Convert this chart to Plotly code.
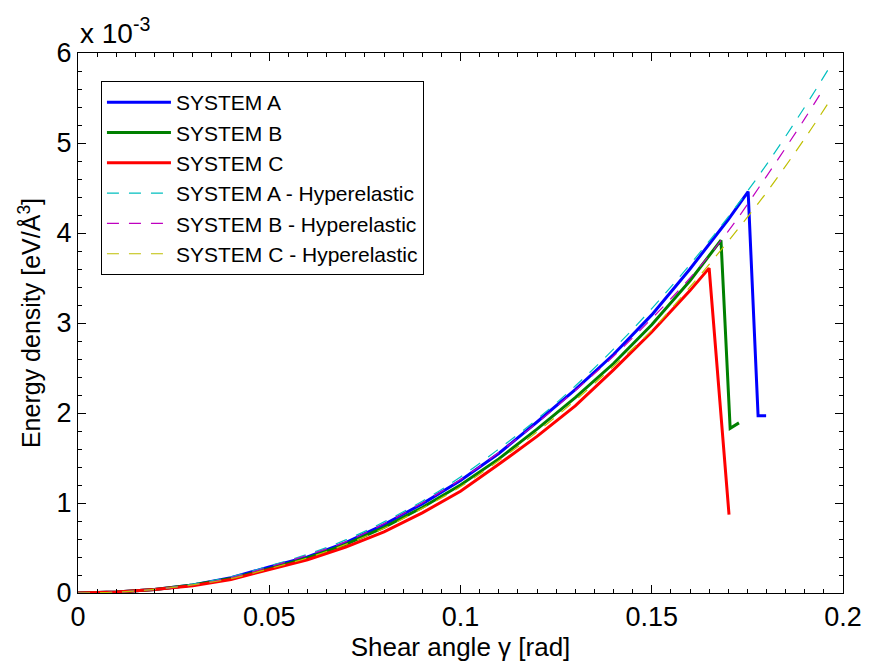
import plotly.graph_objects as go

# Energy density values are in units of 1e-3 eV/Å^3
x_a = [0, 0.01, 0.02, 0.03, 0.04, 0.05, 0.06, 0.07, 0.08, 0.09, 0.10, 0.11, 0.12,
       0.13, 0.14, 0.15, 0.16, 0.17, 0.1752, 0.1778, 0.1799]
y_a = [0, 0.01, 0.04, 0.09, 0.17, 0.29, 0.40, 0.56, 0.76, 0.99, 1.25, 1.55, 1.90,
       2.26, 2.65, 3.09, 3.60, 4.15, 4.46, 1.97, 1.97]

x_b = [0, 0.01, 0.02, 0.03, 0.04, 0.05, 0.06, 0.07, 0.08, 0.09, 0.10, 0.11, 0.12,
       0.13, 0.14, 0.15, 0.16, 0.1681, 0.1705, 0.1728]
y_b = [0, 0.01, 0.04, 0.09, 0.16, 0.27, 0.39, 0.54, 0.73, 0.95, 1.20, 1.49, 1.82,
       2.17, 2.55, 2.98, 3.47, 3.92, 1.83, 1.89]

x_c = [0, 0.01, 0.02, 0.03, 0.04, 0.05, 0.06, 0.07, 0.08, 0.09, 0.10, 0.11, 0.12,
       0.13, 0.14, 0.15, 0.16, 0.165, 0.1702]
y_c = [0, 0.01, 0.04, 0.08, 0.15, 0.26, 0.37, 0.51, 0.68, 0.89, 1.13, 1.43, 1.74,
       2.08, 2.48, 2.90, 3.36, 3.61, 0.87]

x_ah = [0, 0.01, 0.02, 0.03, 0.04, 0.05, 0.06, 0.07, 0.08, 0.09, 0.10, 0.11, 0.12,
        0.13, 0.14, 0.15, 0.16, 0.17, 0.18, 0.19, 0.1972]
y_ah = [0, 0.01, 0.04, 0.10, 0.18, 0.30, 0.43, 0.59, 0.79, 1.02, 1.29, 1.60, 1.93,
        2.30, 2.71, 3.16, 3.65, 4.18, 4.76, 5.40, 5.89]

x_bh = [0, 0.01, 0.02, 0.03, 0.04, 0.05, 0.06, 0.07, 0.08, 0.09, 0.10, 0.11, 0.12,
        0.13, 0.14, 0.15, 0.16, 0.17, 0.18, 0.19, 0.1950]
y_bh = [0, 0.01, 0.04, 0.09, 0.17, 0.29, 0.42, 0.57, 0.77, 1.00, 1.26, 1.56, 1.89,
        2.25, 2.63, 3.05, 3.50, 4.02, 4.63, 5.27, 5.61]

x_ch = [0, 0.01, 0.02, 0.03, 0.04, 0.05, 0.06, 0.07, 0.08, 0.09, 0.10, 0.11, 0.12,
        0.13, 0.14, 0.15, 0.16, 0.17, 0.18, 0.19, 0.1961]
y_ch = [0, 0.01, 0.04, 0.09, 0.16, 0.27, 0.39, 0.54, 0.72, 0.94, 1.18, 1.47, 1.79,
        2.14, 2.52, 2.92, 3.40, 3.91, 4.45, 5.05, 5.44]

x_ticks = [0, 0.05, 0.1, 0.15, 0.2]
x_tick_labels = ["0", "0.05", "0.1", "0.15", "0.2"]
y_ticks = [0, 1, 2, 3, 4, 5, 6]
y_tick_labels = ["0", "1", "2", "3", "4", "5", "6"]

FONT = "Liberation Sans, Arial, sans-serif"

fig = go.Figure()
solid = [("SYSTEM A", x_a, y_a, "#0000ff"),
         ("SYSTEM B", x_b, y_b, "#008000"),
         ("SYSTEM C", x_c, y_c, "#ff0000")]
dashed = [("SYSTEM A - Hyperelastic", x_ah, y_ah, "#00bfbf"),
          ("SYSTEM B - Hyperelastic", x_bh, y_bh, "#bf00bf"),
          ("SYSTEM C - Hyperelastic", x_ch, y_ch, "#bfbf00")]

for name, xs, ys, col in solid:
    fig.add_trace(go.Scatter(x=xs, y=ys, mode="lines", name=name,
                             line=dict(color=col, width=3)))
for name, xs, ys, col in dashed:
    fig.add_trace(go.Scatter(x=xs, y=ys, mode="lines", name=name,
                             line=dict(color=col, width=1.2, dash="12px,10px", shape="spline")))

axis_common = dict(showline=True, linecolor="black", linewidth=1, mirror="ticks",
                   ticks="inside", ticklen=8, tickcolor="black", showgrid=False,
                   zeroline=False, automargin=False,
                   tickfont=dict(family=FONT, size=27, color="black"))

fig.update_xaxes(range=[0, 0.2], tickvals=x_ticks, ticktext=x_tick_labels,
                 minor=dict(ticks="inside", dtick=0.005, ticklen=4, tickcolor="black"),
                 title=dict(text="Shear angle γ [rad]", font=dict(family=FONT, size=26, color="black"),
                            standoff=2),
                 **axis_common)
fig.update_yaxes(range=[0, 6], tickvals=y_ticks, ticktext=y_tick_labels,
                 minor=dict(ticks="inside", dtick=0.2, ticklen=4, tickcolor="black"),
                 title=dict(text="Energy density [eV/Å<sup>3</sup>]",
                            font=dict(family=FONT, size=25, color="black"), standoff=8),
                 **axis_common)

fig.add_annotation(x=0, y=1, xref="paper", yref="paper", xanchor="left", yanchor="bottom",
                   text="x 10<sup>-3</sup>", showarrow=False, yshift=2,
                   font=dict(family=FONT, size=28, color="black"))

fig.update_layout(
    width=869, height=669,
    margin=dict(l=78, r=26, t=53, b=76),
    paper_bgcolor="white", plot_bgcolor="white",
    font=dict(family=FONT, color="black"),
    legend=dict(x=0.030, y=0.948, xanchor="left", yanchor="top",
                bgcolor="white", bordercolor="black", borderwidth=1,
                itemwidth=64,
                font=dict(family=FONT, size=21, color="black")),
)

fig.write_html("out.html")
